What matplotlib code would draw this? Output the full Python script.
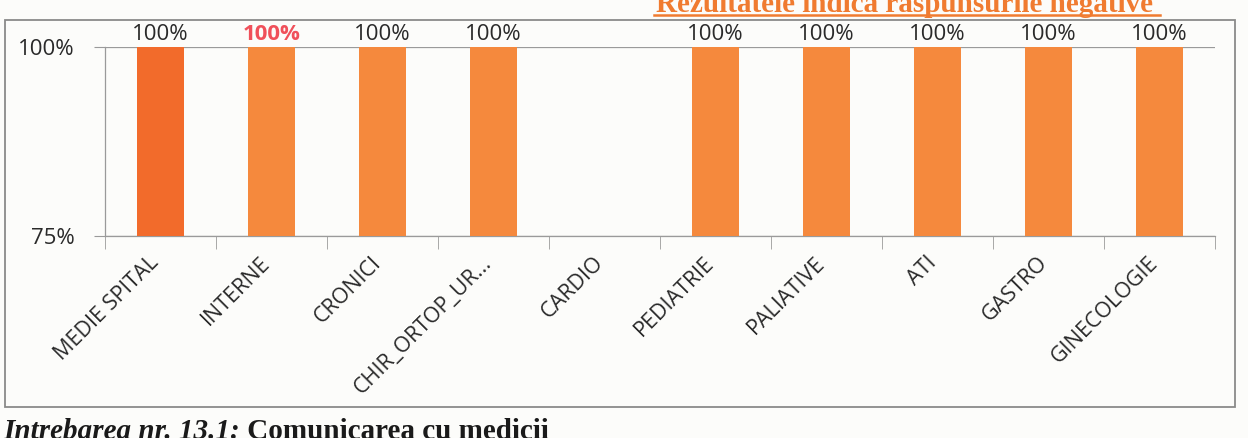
import matplotlib
matplotlib.use("Agg")
import matplotlib.pyplot as plt
import matplotlib.transforms as mtransforms
import numpy as np
from matplotlib.patches import Rectangle

categories = ["MEDIE SPITAL", "INTERNE", "CRONICI", "CHIR_ORTOP_UR...", "CARDIO",
              "PEDIATRIE", "PALIATIVE", "ATI", "GASTRO", "GINECOLOGIE"]
values = [1.00, 1.00, 1.00, 1.00, np.nan, 1.00, 1.00, 1.00, 1.00, 1.00]
bar_colors = ["#F26B2B", "#F5893D", "#F5893D", "#F5893D", "#F5893D",
              "#F5893D", "#F5893D", "#F5893D", "#F5893D", "#F5893D"]
label_colors = ["#2a2a2a", "#F0505A", "#2a2a2a", "#2a2a2a", "#2a2a2a",
                "#2a2a2a", "#2a2a2a", "#2a2a2a", "#2a2a2a", "#2a2a2a"]
yticks = [0.75, 1.00]
ytick_labels = ["75%", "100%"]
title_text = "Rezultatele indica raspunsurile negative"
footer_italic = "Intrebarea nr. 13.1:"
footer_bold = " Comunicarea cu medicii"

W, H = 1248, 438
fig = plt.figure(figsize=(W / 100, H / 100), dpi=100)
fig.patch.set_facecolor("#FCFCFA")

def fx(px):
    return px / W

def fy(py):
    return 1 - py / H

# outer chart frame
fig.add_artist(Rectangle((fx(5), fy(407)), 1230 / W, 387 / H, transform=fig.transFigure,
                         fill=False, edgecolor="#8a8a8a", linewidth=1.3))

ax_left, ax_right = 105, 1215
y_top, y_bot = 47, 236
ax = fig.add_axes([fx(ax_left), fy(y_bot), (ax_right - ax_left) / W, (y_bot - y_top) / H])
ax.set_facecolor("none")

x = np.arange(len(categories))
base = 0.75
for i, v in enumerate(values):
    if np.isnan(v):
        continue
    ax.bar(x[i], v - base, bottom=base, width=0.42, color=bar_colors[i], zorder=3)
    ax.text(x[i], v + 0.002, f"{v:.0%}", ha="center", va="bottom", fontsize=16,
            family="Open Sans", color=label_colors[i],
            fontweight="bold" if i == 1 else "normal", zorder=4)

ax.set_xlim(-0.5, len(categories) - 0.5)
ax.set_ylim(0.75, 1.0)
ax.set_yticks(yticks)
ax.set_yticklabels(ytick_labels, fontsize=16, family="Open Sans", color="#2a2a2a")
ax.yaxis.grid(True, color="#9a9a9a", linewidth=0.9, zorder=0)
ax.tick_params(axis="y", length=8, color="#9a9a9a", pad=14)

ax.set_xticks(x)
ax.set_xticklabels(categories, rotation=45, ha="right", va="top", rotation_mode="anchor",
                   fontsize=15.5, family="Open Sans", color="#2a2a2a")
ax.tick_params(axis="x", which="major", length=0, pad=12)
offset = mtransforms.ScaledTranslation(-12 / 100, 0, fig.dpi_scale_trans)
for lbl in ax.get_xticklabels():
    lbl.set_transform(lbl.get_transform() + offset)
ax.set_xticks(np.arange(-0.5, len(categories), 1.0), minor=True)
ax.tick_params(axis="x", which="minor", length=9, color="#9a9a9a")

for s in ["top", "right"]:
    ax.spines[s].set_visible(False)
for s in ["left", "bottom"]:
    ax.spines[s].set_color("#9a9a9a")
    ax.spines[s].set_linewidth(0.9)

# header (cut off at top in the scan)
fig.text(fx(656), fy(12), title_text, ha="left", va="baseline", fontsize=21,
         family="Liberation Serif", fontweight="bold", color="#F07B30")
fig.add_artist(plt.Line2D([fx(654), fx(1160)], [fy(15), fy(15)],
                          transform=fig.transFigure, color="#F07B30", linewidth=1.8))

# footer (cut off at bottom in the scan)
t1 = fig.text(fx(3), fy(439), footer_italic, ha="left", va="baseline", fontsize=21,
              family="Liberation Serif", fontweight="bold", style="italic", color="#1a1a1a")
fig.canvas.draw()
bb = t1.get_window_extent(renderer=fig.canvas.get_renderer())
fig.text(bb.x1 / W, fy(439), footer_bold, ha="left", va="baseline", fontsize=21,
         family="Liberation Serif", fontweight="bold", color="#1a1a1a")

fig.savefig("out.png", dpi=100, facecolor=fig.get_facecolor())
